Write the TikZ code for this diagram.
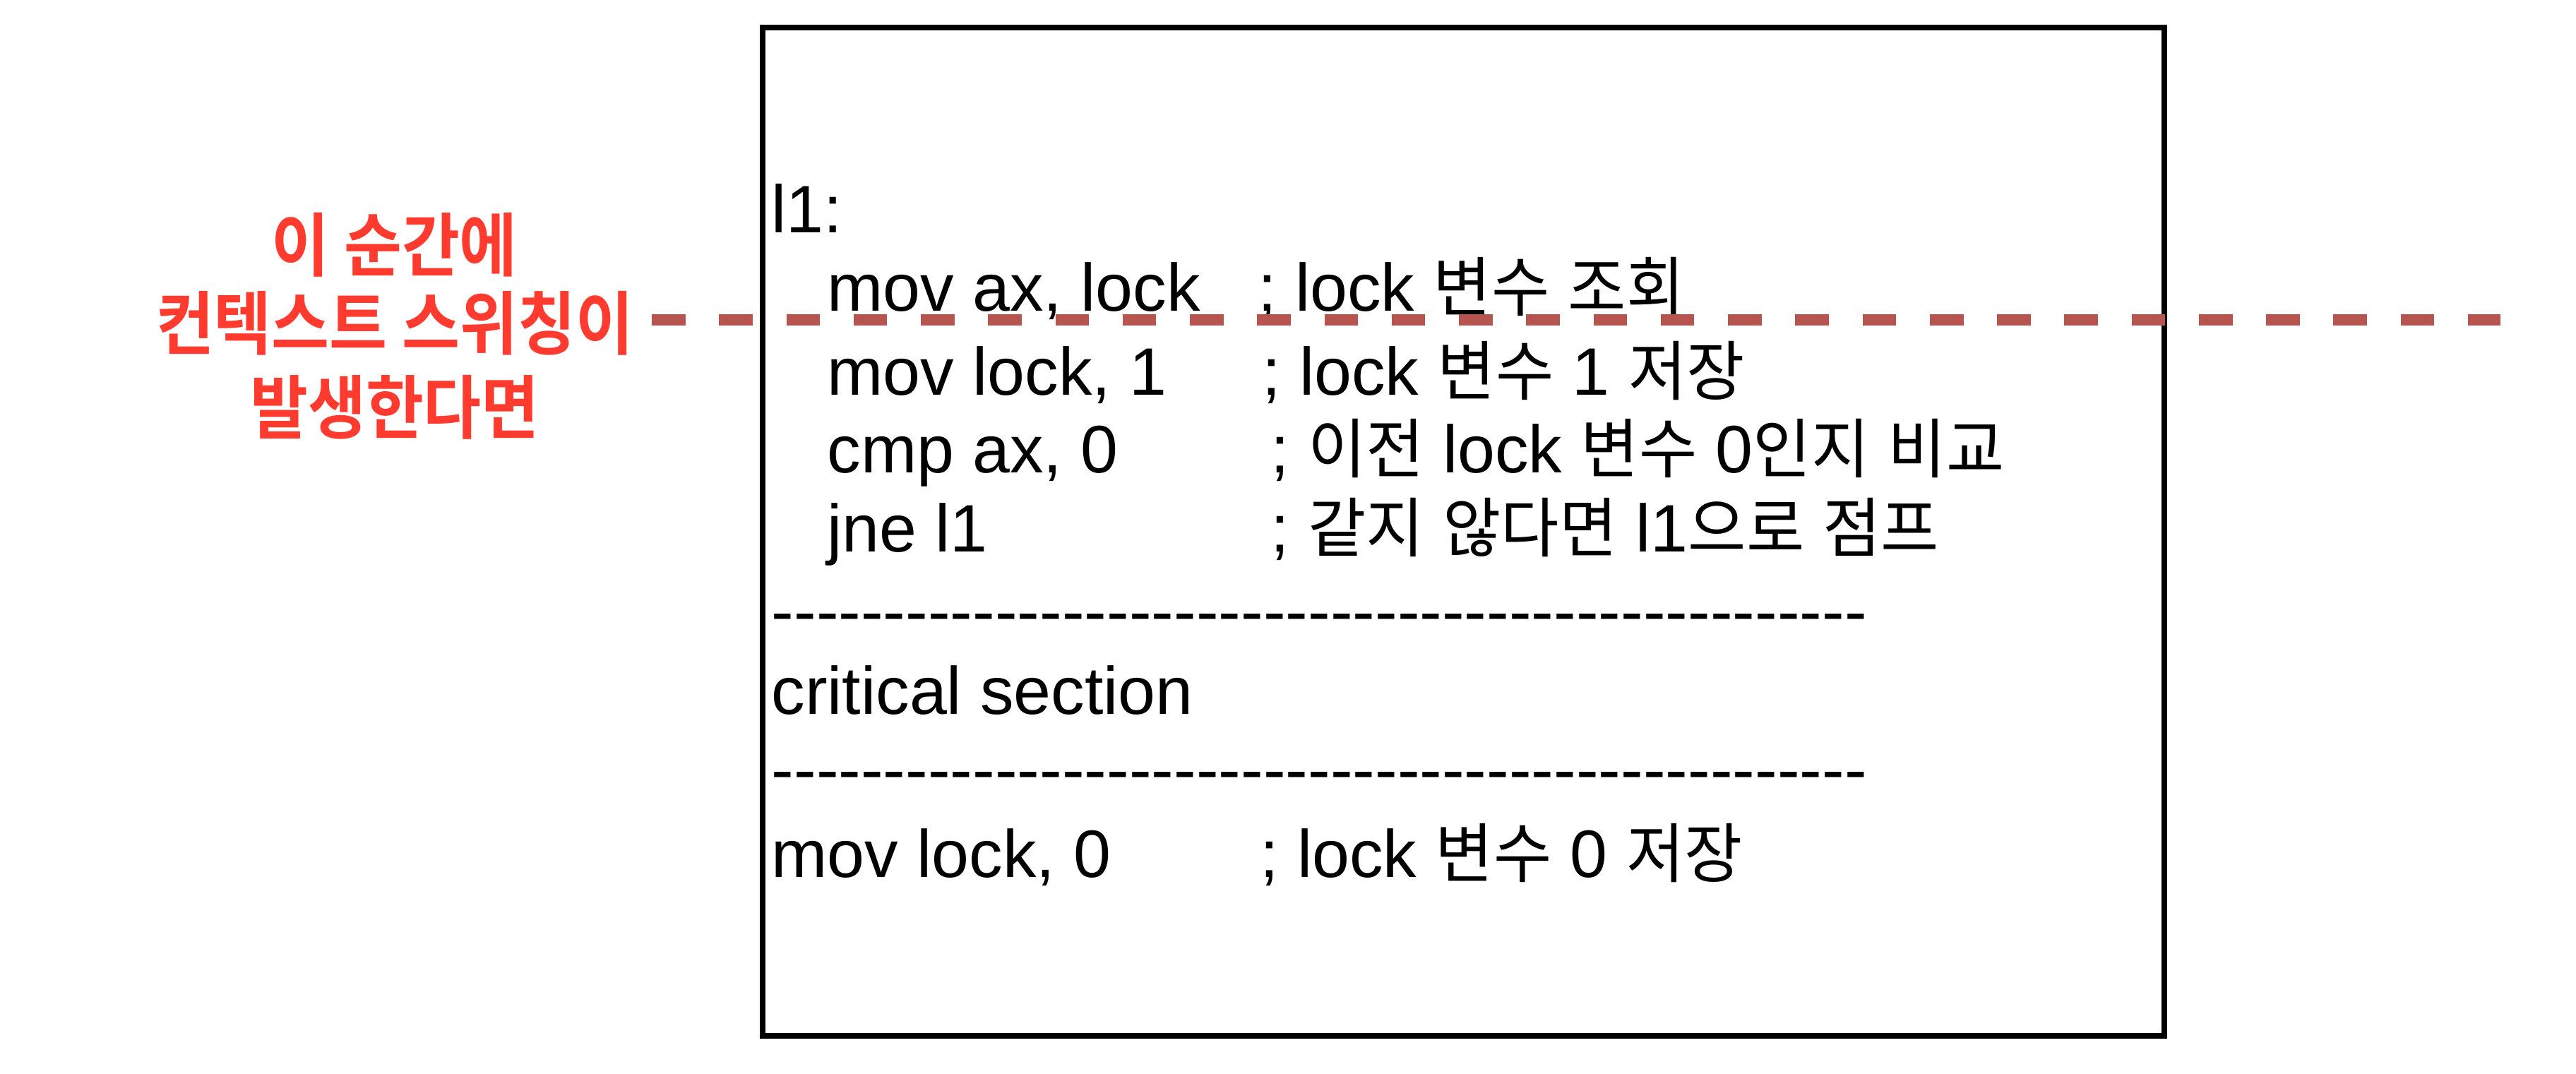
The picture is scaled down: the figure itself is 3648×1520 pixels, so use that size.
\documentclass[tikz,border=0pt]{standalone}
\usepackage{fontspec}
\setmainfont{Liberation Sans}[Ligatures=TeXOff]
\newfontfamily\krfont{Noto Sans CJK KR}[Scale=0.97, FakeStretch=0.97]
\newfontfamily\krboldfont{Noto Sans CJK KR Bold}[Scale=1.03, FakeStretch=0.91]
\newcommand{\kr}[1]{{\krfont #1}}
\definecolor{eventred}{HTML}{FF3B30}
\definecolor{switchline}{HTML}{B85450}

\begin{document}
\begin{tikzpicture}[
        x=0.01cm, y=-0.01cm,
        every node/.style={inner sep=0pt, font=\fontsize{27.03pt}{32.44pt}\selectfont},
        code/.style={anchor=base west},
        note/.style={anchor=base west},
        event/.style={text=eventred, align=center, font=\fontsize{27.03pt}{31.72pt}\selectfont\krboldfont},
        switch/.style={draw=switchline, line width=0.16cm, dash pattern=on 0.476cm off 0.476cm}]

        \useasboundingbox (0,0) rectangle (3648,1520);

        \node[draw, line width=0.08cm, minimum width=19.836cm, minimum height=14.28cm] (codebox) at (2072.8,753) {};

        \node[code] (l1) at (1092,329) {l1:};
        \node[code] (movax) at (1171,440) {mov ax, lock};
        \node[note] (movaxnote) at (1781,440) {; lock \kr{변수} \kr{조회}};
        \node[code] (movlock) at (1171,559) {mov lock, 1};
        \node[note] (movlocknote) at (1787,559) {; lock \kr{변수} 1 \kr{저장}};
        \node[code] (cmp) at (1171,669) {cmp ax, 0};
        \node[note] (cmpnote) at (1799,669) {; \kr{이전} lock \kr{변수} 0\kr{인지} \kr{비교}};
        \node[code] (jne) at (1171,781) {jne l1};
        \node[note] (jnenote) at (1799,781) {; \kr{같지} \kr{않다면} l1\kr{으로} \kr{점프}};
        \node[code] (rule1) at (1092,898) {-------------------------------------------------};
        \node[code] (critical) at (1092,1011) {critical section};
        \node[code] (rule2) at (1092,1122) {-------------------------------------------------};
        \node[code] (unlock) at (1092,1242) {mov lock, 0};
        \node[note] (unlocknote) at (1784,1242) {; lock \kr{변수} 0 \kr{저장}};

        \node[event] (event) at (559,462) {이 순간에\\컨텍스트 스위칭이\\[2.13pt]발생한다면};

        \coordinate (switchstart) at (923,453);
        \coordinate (switchend) at (3541,453);
        \draw[switch] (switchstart) -- (switchend);

    \end{tikzpicture}
\end{document}
